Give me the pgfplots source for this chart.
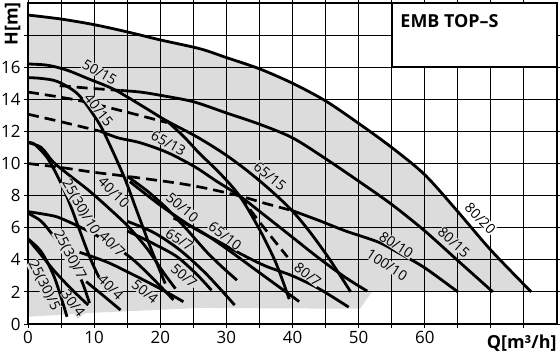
\documentclass[border=0pt]{standalone}
\usepackage{fontspec}
\setmainfont{Open Sans}
\usepackage{pgfplots}
\pgfplotsset{compat=1.18}
\definecolor{bg}{RGB}{220,220,220}
\tikzset{
  curve/.style={black, line width=2.8bp, line join=round, smooth},
  dcurve/.style={black, line width=2.7bp, dash pattern=on 11bp off 6bp, smooth},
  lab/.style={font=\fontsize{14}{14}\selectfont, fill=bg, inner sep=0.3bp},
}
\begin{document}
\begin{tikzpicture}
\begin{axis}[
  at={(0,0)}, anchor=south west,
  scale only axis, width=529bp, height=321bp,
  xmin=0, xmax=80, ymin=0, ymax=20,
  set layers, clip=false,
  xtick={0,5,...,75}, xticklabels={0,,10,,20,,30,,40,,50,,60,,,},
  ytick={0,2,...,18}, yticklabels={0,2,4,6,8,10,12,14,16,},
  grid=major, major grid style={black, line width=1bp},
  axis line style={black, line width=2bp},
  tick style={black, line width=1bp}, tick align=outside, major tick length=4bp,
  tick label style={font=\fontsize{17}{17}\selectfont},
  /pgf/number format/assume math mode=true,
]
\addplot[fill=bg, draw=none, on layer=axis background] coordinates {
(0,0.45) (0,19.25) (5,19.0) (10,18.65) (15,18.2) (20,17.7) (26,17.15) (30,16.6) (35,15.9) (40,15.0) (45,13.9) (50,12.5) (55,11.0) (60,9.3) (65,7.0) (70,4.6) (76.1,2.0) (52,2.0) (50.2,0.95) (26,1.0) (10,0.7) } -- cycle;
% 80/20
\addplot[curve] coordinates {(0,19.25) (5,19.0) (10,18.65) (15,18.2) (20,17.7) (26,17.15) (30,16.6) (35,15.9) (40,15.0) (45,13.9) (50,12.5) (55,11.0) (60,9.3) (65,7.0) (70,4.6) (76.1,2.0)};
% 50/15 - 65/15
\addplot[curve] coordinates {(0,16.2) (3,16.12) (6,15.8) (9,15.3) (12.6,14.7) (15,14.15) (18,13.4) (21,12.65) (25.5,11.67) (29.5,10.65) (33,9.6) (36.5,8.4) (39.85,7.1) (42.5,5.8) (45.5,4.1) (48.8,2.0)};
\addplot[curve] coordinates {(21,12.65) (23.5,11.7) (26,10.6) (29,9.4) (32,7.98) (35,5.9) (37.5,3.8) (39.5,1.55)};
% 40/15
\addplot[curve] coordinates {(0,15.35) (2,15.3) (4.5,15.1) (7.6,14.3) (10.6,12.6) (12.1,11.4) (14.6,9.1) (16.5,7.0) (18.5,4.8) (20.75,2.52)};
% 80/15
\addplot[dcurve] coordinates {(4.8,14.85) (9,14.7) (14,14.55)};
\addplot[curve] coordinates {(14,14.55) (17,14.45) (20,14.25) (25,13.85) (30,13.15) (35,12.45) (40,11.6) (45,10.3) (50,8.9) (55,7.45) (60,5.8) (65,3.95) (70.3,2.0)};
% dashed D2, D3
\addplot[dcurve] coordinates {(0,14.45) (7.4,13.95) (14,13.3) (21,12.55)};
\addplot[dcurve] coordinates {(0,13.07) (5,12.6) (11,12.0)};
% 65/13
\addplot[curve] coordinates {(11,12.0) (13.6,11.6) (16.9,11.3) (21,10.7) (25.2,9.8) (28.5,8.9) (32,7.98) (36,6.7) (40,5.4) (44,4.1) (48,2.9) (51.3,2.05)};
% D4 dashed and 80/10
\addplot[dcurve] coordinates {(0,10.0) (5,9.75) (10,9.45) (15,9.2) (22.7,8.77) (27,8.45) (32,7.98) (36,7.5) (40,7.06)};
\addplot[curve] coordinates {(40,7.06) (44,6.45) (48,5.8) (53,5.1) (56.2,4.4) (60,3.5) (65,2.0)};
\addplot[dcurve] coordinates {(32,7.98) (35.5,6.1) (39.25,4.17)};
% 40/10, 25(30)/10
\addplot[curve] coordinates {(0,11.3) (2,11.0) (3.8,10.1) (6,9.35) (9.1,8.35) (12,7.3) (15.1,6.1) (18,4.7) (20.5,3.2) (22.3,2.2)};
\addplot[curve] coordinates {(0,11.3) (1,11.2) (3,10.3) (5,8.76) (6.5,7.3) (7.8,5.85) (9.5,4.0) (11.3,2.43)};
% 50/10, 65/10
\addplot[curve] coordinates {(15,9.2) (18,8.3) (21,7.2) (24,5.9) (27,4.5) (29.5,3.5) (31.6,2.73)};
\addplot[curve] coordinates {(22,6.6) (26,5.8) (30,4.7) (34,3.5) (38,2.3) (41,1.4)};
% 65/7, 50/7, 80/7
\addplot[curve] coordinates {(15,6.4) (19,5.7) (23,4.6) (27,3.1) (31.25,1.18)};
\addplot[curve] coordinates {(15,5.8) (19,5.0) (22.5,4.2) (25.5,3.1) (27.75,2.1)};
\addplot[curve] coordinates {(15.4,8.87) (20,7.4) (25,6.0) (28.75,5.15) (32.5,4.3) (36,3.6) (40,3.0) (44,2.2) (48.5,1.05)};
% 40/7, 25(30)/7
\addplot[curve] coordinates {(0,7.0) (3,6.8) (5,6.58) (10,5.6) (15,4.3) (18,3.2) (22,1.5)};
\addplot[curve] coordinates {(0,6.9) (2,6.4) (4,5.4) (6,4.2) (8,2.8) (9.3,1.3)};
% 25(30)/5, 30/4, 40/4, 50/4
\addplot[curve] coordinates {(0,5.3) (2,4.5) (4,2.9) (5.9,0.45)};
\addplot[curve] coordinates {(0,5.3) (2,4.3) (4,3.3) (6.5,2.2) (9.1,1.18)};
\addplot[curve] coordinates {(8.8,2.64) (11,1.9) (14,0.87)};
\addplot[curve] coordinates {(7.8,4.47) (12,3.85) (16,3.05) (20,2.2) (23.5,1.39)};
% labels
\node[lab, rotate=-30.6] at (axis cs:10.83,15.68) {50/15};
\node[lab, rotate=-51.7] at (axis cs:10.7,13.33) {40/15};
\node[lab, rotate=-29.5] at (axis cs:21.25,11.28) {65/13};
\node[lab, rotate=-40.6] at (axis cs:36.6,9.2) {65/15};
\node[lab, rotate=-46, fill=white] at (axis cs:68.4,6.58) {80/20};
\node[lab, rotate=-42] at (axis cs:64.4,5.09) {80/15};
\node[lab, rotate=-33] at (axis cs:55.7,4.92) {80/10};
\node[lab, rotate=-33] at (axis cs:54.3,3.68) {100/10};
\node[lab, rotate=-38] at (axis cs:42.3,3.1) {80/7};
\node[lab, rotate=-37.7] at (axis cs:29.8,5.5) {65/10};
\node[lab, rotate=-40.6] at (axis cs:23.35,7.26) {50/10};
\node[lab, rotate=-32] at (axis cs:22.9,5.26) {65/7};
\node[lab, rotate=-41] at (axis cs:23.6,3.0) {50/7};
\node[lab, rotate=-39] at (axis cs:17.7,2.01) {50/4};
\node[lab, rotate=-45] at (axis cs:12.5,2.29) {40/4};
\node[lab, rotate=-45] at (axis cs:13.0,8.2) {40/10};
\node[lab, rotate=-43] at (axis cs:12.75,4.98) {40/7};
\node[lab, rotate=-60] at (axis cs:7.96,7.27) {25(30)/10};
\node[lab, rotate=-62] at (axis cs:6.3,4.3) {25(30)/7};
\node[lab, rotate=-63] at (axis cs:2.42,2.39) {25(30)/5};
\node[lab, rotate=-53] at (axis cs:6.85,1.29) {30/4};
% title box
\draw[fill=white, line width=2bp] (axis cs:55,16) rectangle (axis cs:80,20);
\node[anchor=base west, font=\bfseries\fontsize{18}{18}\selectfont, inner sep=0] at (axis cs:56.3,18.45) {EMB TOP–S};
% axis labels
\node[rotate=90, font=\bfseries\fontsize{18}{18}\selectfont] at (axis cs:-2.34,18.69) {H[m]};
\node[font=\bfseries\fontsize{18}{18}\selectfont] at (axis cs:74.66,-1.18) {Q[m³/h]};
\end{axis}
\pgfresetboundingbox
\path (-28bp,-31bp) rectangle (532bp,324bp);
\end{tikzpicture}
\end{document}
